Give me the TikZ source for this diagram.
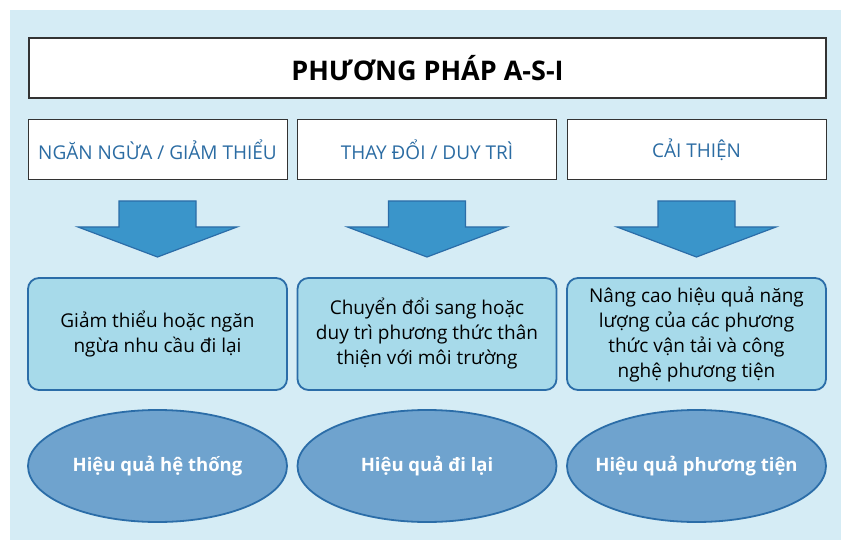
\documentclass[tikz,border=0pt]{standalone}
\usepackage{fontspec}
\setmainfont{Open Sans}
\usetikzlibrary{shapes.geometric}
\definecolor{bgblue}{HTML}{D5ECF5}
\definecolor{catblue}{HTML}{2B6CA3}
\definecolor{arrowblue}{HTML}{3A95CA}
\definecolor{edgeblue}{HTML}{2B6DA8}
\definecolor{boxblue}{HTML}{A7DAEA}
\definecolor{ovalblue}{HTML}{6FA3CE}
\tikzset{
  titlebox/.style={draw=black!80, line width=1.2pt, fill=white, minimum width=797pt, minimum height=60pt, font=\fontsize{27}{31}\selectfont\bfseries},
  catbox/.style={draw=black!80, line width=1pt, fill=white, minimum width=259pt, minimum height=60pt, text=catblue, font=\fontsize{19}{23}\selectfont},
  descbox/.style={draw=edgeblue, line width=1.8pt, fill=boxblue, rounded corners=11pt, minimum width=259pt, minimum height=112pt, align=center, font=\fontsize{19}{25}\selectfont},
  oval/.style={ellipse, draw=edgeblue, line width=1.8pt, fill=ovalblue, minimum width=259pt, minimum height=112pt, inner xsep=-20pt, inner ysep=0pt, text=white, font=\fontsize{18.5}{21}\selectfont\bfseries},
  blockarrow/.style={draw=edgeblue, line width=1.2pt, fill=arrowblue}
}
\begin{document}
\begin{tikzpicture}[x=1pt,y=-1pt]
  \useasboundingbox (0,0) rectangle (841,540);
  \fill[bgblue] (10,10) rectangle (841,540);

  \node[titlebox] (title) at (427.5,68) {PHƯƠNG PHÁP A-S-I};

  \node[catbox] (cat1) at (157.5,150) {NGĂN NGỪA / GIẢM THIỂU};
  \node[catbox] (cat2) at (427,150) {THAY ĐỔI / DUY TRÌ};
  \node[catbox] (cat3) at (696.5,150) {CẢI THIỆN};

  % block arrows under the categories
  \foreach \c in {157.5,427,696.5}
    \draw[blockarrow] (\c-38.5,201) -- (\c+38.5,201) -- (\c+38.5,227) -- (\c+79.5,227)
      -- (\c,257) -- (\c-79.5,227) -- (\c-38.5,227) -- cycle;

  \node[descbox] (desc1) at (157.5,334) {Giảm thiểu hoặc ngăn\\ngừa nhu cầu đi lại};
  \node[descbox] (desc2) at (427,334) {Chuyển đổi sang hoặc\\duy trì phương thức thân\\thiện với môi trường};
  \node[descbox] (desc3) at (696.5,334) {Nâng cao hiệu quả năng\\lượng của các phương\\thức vận tải và công\\nghệ phương tiện};

  \node[oval] (eff1) at (157.5,466) {Hiệu quả hệ thống};
  \node[oval] (eff2) at (427,466) {Hiệu quả đi lại};
  \node[oval] (eff3) at (696.5,466) {Hiệu quả phương tiện};
\end{tikzpicture}
\end{document}
